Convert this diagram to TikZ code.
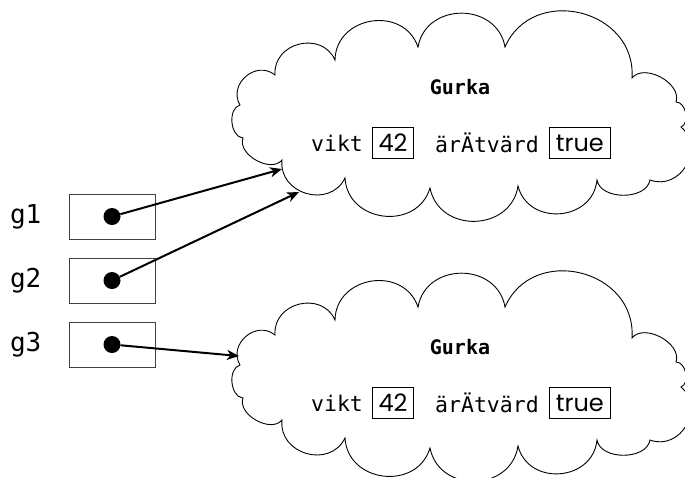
\documentclass[tikz,border=0pt]{standalone}
\usepackage{fontspec}
\setmonofont{DejaVu Sans Mono}
\newfontfamily\valfont{Poppins}
\usetikzlibrary{positioning, arrows.meta}

\tikzset{
  puff/.style={bend left=80, looseness=1.35},
  smallpuff/.style={bend left=80, looseness=1.0},
  cloudline/.style={line width=0.9pt},
  refbox/.style={draw=black!75, line width=0.9pt, minimum width=86pt, minimum height=45pt, inner sep=0pt},
  refdot/.style={circle, fill=black, minimum size=17pt, inner sep=0pt},
  varname/.style={font=\fontsize{26}{30}\selectfont\ttfamily, inner sep=0pt},
  classname/.style={font=\fontsize{20}{24}\selectfont\ttfamily\bfseries, inner sep=0pt},
  fieldname/.style={font=\fontsize{21.5}{25}\selectfont\ttfamily, inner sep=0pt},
  valbox/.style={draw, line width=0.9pt, font=\fontsize{24}{28}\selectfont\valfont, minimum height=31pt, inner xsep=3pt, inner ysep=0pt},
  pointer/.style={line width=2pt, -{Stealth[length=12pt, width=10pt, inset=3.5pt]}}
}

\begin{document}
\begin{tikzpicture}[x=1pt, y=1pt]
  \useasboundingbox (0,0) rectangle (685,-477);
  % two objects of class Gurka, second one 260 lower
  \foreach \i/\dy in {1/0, 2/-260} {
    \begin{scope}[yshift=\dy]
      \draw[cloudline] (275,-75) to[puff] (335,-60) to[puff] (418,-47) to[puff] (505,-47)
        to[puff] (632,-78) to[smallpuff] (676,-102) to[smallpuff] (681,-127) to[puff] (650,-180)
        to[smallpuff] (597,-180) to[puff] (518,-186) to[puff] (430,-188) to[puff] (345,-178)
        to[puff] (282,-160) to[smallpuff] (243,-138) to[smallpuff] (240,-105) to[puff] (275,-75) -- cycle;
      \node[classname] (title\i) at (460,-87) {Gurka};
      \node[fieldname] (vikt\i) at (337,-143) {vikt};
      \node[valbox, minimum width=41pt, right=9pt of vikt\i] (w\i) {42};
      \node[fieldname, right=21pt of w\i] (eat\i) {ärÄtvärd};
      \node[valbox, minimum width=61pt, right=10pt of eat\i] (e\i) {true};
    \end{scope}
  }
  \coordinate (hit1) at (282,-169);
  \coordinate (hit2) at (299,-192);
  \coordinate (hit3) at (239,-356);
  % reference variables
  \foreach \i/\y in {1/-216.5, 2/-280.5, 3/-344.5} {
    \node[refbox] (box\i) at (112,\y) {};
    \node[refdot] (dot\i) at (box\i) {};
    \node[varname, left=27pt of box\i] (g\i) {g\i};
  }
  \draw[pointer] (dot1) -- (hit1);
  \draw[pointer] (dot2) -- (hit2);
  \draw[pointer] (dot3) -- (hit3);
\end{tikzpicture}
\end{document}
